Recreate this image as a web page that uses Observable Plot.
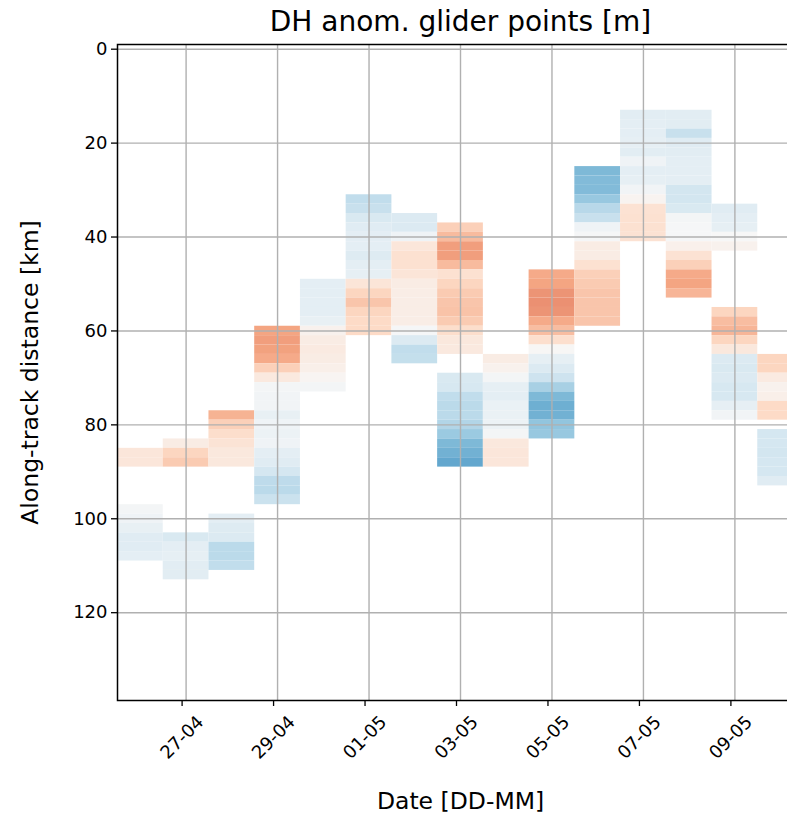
<!DOCTYPE html>
<html><head><meta charset="utf-8">
<script src="https://cdn.jsdelivr.net/npm/d3@7"></script>
<script src="https://cdn.jsdelivr.net/npm/@observablehq/plot@0.6"></script>
<style>
html,body{margin:0;padding:0;background:#fff;overflow:hidden;width:787px;height:817px;}
#chart{position:absolute;left:0;top:0;width:830px;}
#chart svg{max-width:none !important;}
</style></head><body><div id="chart"></div>
<script>
// ---- data ----
const dates = ["2023-04-26","2023-04-27","2023-04-28","2023-04-29","2023-04-30","2023-05-01","2023-05-02",
  "2023-05-03","2023-05-04","2023-05-05","2023-05-06","2023-05-07","2023-05-08","2023-05-09","2023-05-10"];
// along-track distance (km) of the first 2-km cell centre in each daily column
const firstKm = [86, 84, 78, 60, 50, 32, 36, 38, 66, 48, 26, 14, 14, 34, 66];
// DH anomaly [m] per 2-km cell (null = no data)
const a2604 = [0.012, 0.012, null, null, null, null, -0.002, -0.004, -0.008, -0.012, -0.012, -0.010];
const a2704 = [0.008, 0.022, 0.026, null, null, null, null, null, null, null, -0.016, -0.010, -0.009, -0.011, -0.011];
const a2804 = [0.035, 0.024, 0.018, 0.014, 0.011, 0.011, null, null, null, null, null, -0.010, -0.013, -0.014, -0.027, -0.027, -0.025];
const a2904 = [0.040, 0.042, 0.041, 0.038, 0.024, 0.010, -0.002, -0.003, -0.003, -0.008, -0.004, -0.006, -0.004, -0.010, -0.012, -0.018, -0.026, -0.027, -0.022];
const a3004 = [-0.010, -0.010, -0.010, -0.010, -0.008, 0.004, 0.008, 0.009, 0.008, 0.006, 0.002, -0.002];
const a0105 = [-0.025, -0.023, -0.016, -0.012, -0.010, -0.010, -0.013, -0.010, -0.009, 0.013, 0.022, 0.028, 0.022, 0.020, 0.020];
const a0205 = [-0.014, -0.014, -0.004, 0.012, 0.016, 0.016, 0.013, 0.008, 0.007, 0.007, 0.007, 0.007, -0.001, -0.014, -0.025, -0.024];
const a0305 = [0.024, 0.032, 0.042, 0.042, 0.032, 0.016, 0.022, 0.026, 0.028, 0.029, 0.026, 0.018, 0.011, 0.010, null, null,
  -0.016, -0.017, -0.025, -0.027, -0.027, -0.030, -0.037, -0.045, -0.048, -0.052];
const a0405 = [0.008, 0.004, -0.002, -0.009, -0.010, -0.007, -0.007, -0.006, -0.002, 0.011, 0.012, 0.012];
const a0505 = [0.038, 0.040, 0.045, 0.046, 0.045, 0.038, 0.031, 0.017, 0.001, -0.009, -0.014, -0.021, -0.033, -0.045, -0.049, -0.048, -0.040, -0.038];
const a0605 = [-0.045, -0.044, -0.044, -0.038, -0.028, -0.023, -0.004, -0.001, 0.008, 0.008, 0.016, 0.024, 0.026, 0.028, 0.028, 0.028, 0.028];
const a0705 = [-0.011, -0.010, -0.010, -0.009, -0.011, -0.004, -0.010, -0.009, -0.003, 0.003, 0.015, 0.016, 0.016, 0.015];
const a0805 = [-0.011, -0.011, -0.023, -0.012, -0.011, -0.010, -0.010, -0.010, -0.019, -0.019, -0.016, -0.002, -0.001, -0.001, 0.005, 0.015, 0.024, 0.038, 0.040, 0.034];
const a0905 = [-0.012, -0.010, -0.009, 0.000, 0.004, null, null, null, null, null, null,
  0.022, 0.031, 0.034, 0.022, 0.011, -0.014, -0.016, -0.014, -0.017, -0.017, -0.009, -0.003];
const a1005 = [0.022, 0.022, 0.009, 0.004, 0.006, 0.020, 0.020, null, -0.018, -0.018, -0.019, -0.018, -0.018, -0.012];
const columns = [a2604, a2704, a2804, a2904, a3004, a0105, a0205, a0305, a0405, a0505, a0605, a0705, a0805, a0905, a1005];

const xTickDates = ["2023-04-27","2023-04-29","2023-05-01","2023-05-03","2023-05-05","2023-05-07","2023-05-09"];
const yTicks = [0, 20, 40, 60, 80, 100, 120];
const title = "DH anom. glider points [m]";
const xLabel = "Date [DD-MM]";
const yLabel = "Along-track distance [km]";
// matplotlib RdBu_r
const rdbuR = ["#053061","#2166ac","#4393c3","#92c5de","#d1e5f0","#f7f7f7","#fddbc7","#f4a582","#d6604d","#b2182b","#67001f"];

// ---- build table ----
const HALF_DAY = 12 * 3600e3;
const cells = [];
dates.forEach((d, i) => {
  const t = +new Date(d + "T00:00:00Z");
  columns[i].forEach((v, j) => {
    if (v == null) return;
    const km = firstKm[i] + 2 * j;
    cells.push({x1: new Date(t - HALF_DAY), x2: new Date(t + HALF_DAY), y1: km - 1, y2: km + 1, v});
  });
});
const xTicks = xTickDates.map(d => new Date(d + "T00:00:00Z"));
const fmt = d3.utcFormat("%d-%m");

const chart = Plot.plot({
  width: 830, height: 817,
  marginLeft: 117, marginRight: 27, marginTop: 44, marginBottom: 117,
  style: {fontFamily: "DejaVu Sans", fontSize: "18px", color: "#000", background: "#fff", maxWidth: "none"},
  x: {type: "utc", domain: [new Date("2023-04-25T12:00:00Z"), new Date("2023-05-10T12:00:00Z")]},
  y: {domain: [-1, 138.7], reverse: true},
  color: {type: "linear", domain: [-0.1, 0.1], interpolate: d3.piecewise(d3.interpolateRgb, rdbuR)},
  marks: [
    Plot.rect(cells, {x1: "x1", x2: "x2", y1: "y1", y2: "y2", fill: "v", inset: 0}),
    Plot.gridX(xTicks, {stroke: "#b0b0b0", strokeOpacity: 1, strokeWidth: 1.4}),
    Plot.gridY(yTicks, {stroke: "#b0b0b0", strokeOpacity: 1, strokeWidth: 1.4}),
    Plot.frame({stroke: "#000", strokeWidth: 1.5}),
    Plot.axisY(yTicks, {tickSize: 6, tickPadding: 4, fontSize: 18, label: null, stroke: "#000", strokeWidth: 1.3}),
    Plot.axisX(xTicks, {tickFormat: fmt, tickSize: 6, tickRotate: -45, textAnchor: "middle", tickPadding: 31,
      dx: -4, fontSize: 18, label: null, stroke: "#000", strokeWidth: 1.3}),
    Plot.text([title], {frameAnchor: "top", dy: -22, fontSize: 28, lineAnchor: "middle"}),
    Plot.text([xLabel], {frameAnchor: "bottom", dy: 101, fontSize: 23.5, lineAnchor: "middle"}),
    Plot.text([yLabel], {frameAnchor: "left", dx: -87, rotate: -90, fontSize: 23.5, lineAnchor: "middle", textAnchor: "middle"})
  ]
});
document.getElementById("chart").appendChild(chart);
</script></body></html>
